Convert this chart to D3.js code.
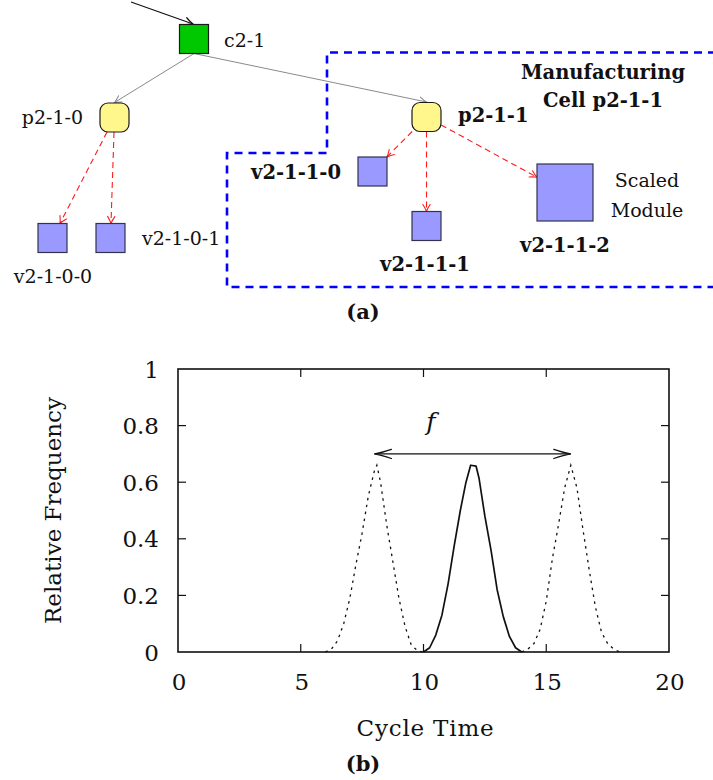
<!DOCTYPE html>
<html>
<head>
<meta charset="utf-8">
<script src="https://cdn.jsdelivr.net/npm/d3@7/dist/d3.min.js"></script>
<style>
  html, body { margin: 0; padding: 0; background: #fff; }
  svg { display: block; }
  text { font-family: "DejaVu Serif", "Liberation Serif", serif; fill: #111; }
</style>
</head>
<body>
<svg id="fig" width="713" height="780"></svg>
<script>
// ---------- (a) hierarchy: cell -> processes -> modules ----------
const nodeNames = ["c2-1", "p2-1-0", "p2-1-1", "v2-1-0-0", "v2-1-0-1", "v2-1-1-0", "v2-1-1-1", "v2-1-1-2"];
const nodeKinds = ["cell", "process", "process", "module", "module", "module", "module", "module"];
const treeLinks = [["c2-1", "p2-1-0"], ["c2-1", "p2-1-1"]];
const moduleLinks = [["p2-1-0", "v2-1-0-0"], ["p2-1-0", "v2-1-0-1"],
                     ["p2-1-1", "v2-1-1-0"], ["p2-1-1", "v2-1-1-1"], ["p2-1-1", "v2-1-1-2"]];
const highlightedNodes = ["p2-1-1", "v2-1-1-0", "v2-1-1-1", "v2-1-1-2"];
const cellCaption = ["Manufacturing", "Cell p2-1-1"];
const scaledCaption = ["Scaled", "Module"];

// ---------- (b) cycle-time distributions ----------
const xTicks = [0, 5, 10, 15, 20];
const yTicks = [0, 0.2, 0.4, 0.6, 0.8, 1];
const yTickLabels = ["0", "0.2", "0.4", "0.6", "0.8", "1"];
const xTitle = "Cycle Time";
const yTitle = "Relative Frequency";

// current cycle (solid)
const currentTime = [10, 10.25, 10.5, 10.75, 11, 11.25, 11.5, 11.72, 11.92, 12.14, 12.26, 12.5, 12.75, 13, 13.25, 13.5, 13.75, 14];
const currentFreq = [0, 0.015, 0.06, 0.13, 0.24, 0.375, 0.5, 0.596, 0.66, 0.657, 0.615, 0.48, 0.36, 0.22, 0.125, 0.055, 0.015, 0];
// previous cycle (dotted)
const previousTime = [6, 6.25, 6.5, 6.75, 7, 7.25, 7.5, 7.75, 8, 8.1, 8.25, 8.5, 8.75, 9, 9.25, 9.5, 9.75, 10];
const previousFreq = [0, 0.01, 0.04, 0.1, 0.19, 0.31, 0.42, 0.55, 0.64, 0.66, 0.6, 0.45, 0.32, 0.19, 0.09, 0.025, 0.005, 0];
// next cycle (dotted)
const nextTime = [14, 14.25, 14.5, 14.75, 15, 15.25, 15.5, 15.75, 16, 16.25, 16.5, 16.75, 17, 17.25, 17.5, 17.75, 18];
const nextFreq = [0, 0.01, 0.03, 0.08, 0.18, 0.33, 0.45, 0.58, 0.66, 0.58, 0.43, 0.29, 0.16, 0.07, 0.03, 0.01, 0];

// period marker between the two outer peaks
const periodStart = 8, periodEnd = 16, periodLevel = 0.7;
const periodLabel = "f";
const periodLabelAt = [10.3, 0.785];

const svg = d3.select("#fig");

// ---------- markers ----------
const defs = svg.append("defs");
function arrowMarker(id, color, len, half, width) {
  defs.append("marker")
    .attr("id", id)
    .attr("markerUnits", "userSpaceOnUse")
    .attr("viewBox", `${-len - 2} ${-half - 2} ${len + 4} ${2 * half + 4}`)
    .attr("refX", 0).attr("refY", 0)
    .attr("markerWidth", len + 4).attr("markerHeight", 2 * half + 4)
    .attr("orient", "auto-start-reverse")
    .append("path")
    .attr("d", `M${-len},${-half} Q${-len * 0.4},${-half * 0.25} 0,0 Q${-len * 0.4},${half * 0.25} ${-len},${half}`)
    .attr("fill", "none")
    .attr("stroke", color)
    .attr("stroke-width", width)
    .attr("stroke-dasharray", "none")
    .attr("stroke-linecap", "round");
}
arrowMarker("arrGray", "#8a8a8a", 7, 3.6, 1);
arrowMarker("arrRed", "#ff1a1a", 7, 3.6, 1.1);
arrowMarker("arrBlack", "#111", 8, 3.8, 1.2);
arrowMarker("arrPeriod", "#111", 17, 4.6, 1.3);

// ---------- (a) layout ----------
const box = {
  "c2-1":     { x: 179.5, y: 24.5,  w: 29, h: 29 },
  "p2-1-0":   { x: 100,   y: 103,   w: 29, h: 29 },
  "p2-1-1":   { x: 412,   y: 102.5, w: 29, h: 29 },
  "v2-1-0-0": { x: 38,    y: 223.5, w: 29, h: 29 },
  "v2-1-0-1": { x: 96,    y: 223.5, w: 29, h: 29 },
  "v2-1-1-0": { x: 358,   y: 157,   w: 29, h: 29 },
  "v2-1-1-1": { x: 412,   y: 211.5, w: 29, h: 29 },
  "v2-1-1-2": { x: 537,   y: 164,   w: 56, h: 57 }
};
const labelPos = {
  "c2-1":     { x: 224, y: 47,  anchor: "start" },
  "p2-1-0":   { x: 83,  y: 124, anchor: "end" },
  "p2-1-1":   { x: 458, y: 122, anchor: "start" },
  "v2-1-0-0": { x: 53,  y: 283, anchor: "middle" },
  "v2-1-0-1": { x: 142, y: 245, anchor: "start" },
  "v2-1-1-0": { x: 341, y: 179, anchor: "end" },
  "v2-1-1-1": { x: 425, y: 271, anchor: "middle" },
  "v2-1-1-2": { x: 565, y: 252, anchor: "middle" }
};
const centerOf = n => [box[n].x + box[n].w / 2, box[n].y + box[n].h / 2];

// cell boundary (dashed blue)
const cellOutline = [[716, 52.5], [327, 52.5], [327, 153], [227, 153], [227, 287], [716, 287]];
svg.append("path")
  .attr("d", d3.line()(cellOutline))
  .attr("fill", "none")
  .attr("stroke", "#0000ff")
  .attr("stroke-width", 2.6)
  .attr("stroke-dasharray", "8,6");

// entry arrow into the cell node
svg.append("line")
  .attr("x1", 131).attr("y1", 2)
  .attr("x2", centerOf("c2-1")[0] - 1).attr("y2", box["c2-1"].y - 0.5)
  .attr("stroke", "#111").attr("stroke-width", 1.2)
  .attr("marker-end", "url(#arrBlack)");

// cell -> process links (south anchor to north anchor)
treeLinks.forEach(([s, t]) => {
  const sb = box[s], tb = box[t];
  svg.append("line")
    .attr("x1", sb.x + sb.w / 2).attr("y1", sb.y + sb.h)
    .attr("x2", tb.x + tb.w / 2).attr("y2", tb.y - 0.5)
    .attr("stroke", "#8a8a8a").attr("stroke-width", 1)
    .attr("marker-end", "url(#arrGray)");
});

// clip a centre-to-centre segment to a rectangle border
function clipToBox(from, to, b) {
  const dx = to[0] - from[0], dy = to[1] - from[1];
  const tx = dx === 0 ? Infinity : (b.w / 2) / Math.abs(dx);
  const ty = dy === 0 ? Infinity : (b.h / 2) / Math.abs(dy);
  const t = Math.min(tx, ty);
  return [from[0] + dx * t, from[1] + dy * t];
}

// process -> module links (dashed red)
moduleLinks.forEach(([s, t]) => {
  const cs = centerOf(s), ct = centerOf(t);
  const p0 = clipToBox(cs, ct, box[s]);
  const p1 = clipToBox(ct, cs, box[t]);
  svg.append("line")
    .attr("x1", p0[0]).attr("y1", p0[1])
    .attr("x2", p1[0]).attr("y2", p1[1])
    .attr("stroke", "#ff1a1a").attr("stroke-width", 1.1)
    .attr("stroke-dasharray", "6,4")
    .attr("marker-end", "url(#arrRed)");
});

// nodes
const nodeStyle = {
  cell:    { fill: "#00c800", stroke: "#1a1a1a", rx: 0 },
  process: { fill: "#fff68c", stroke: "#1a1a1a", rx: 8 },
  module:  { fill: "#9999ff", stroke: "#33334d", rx: 0 }
};
nodeNames.forEach((n, i) => {
  const b = box[n], st = nodeStyle[nodeKinds[i]];
  svg.append("rect")
    .attr("x", b.x).attr("y", b.y).attr("width", b.w).attr("height", b.h)
    .attr("rx", st.rx).attr("ry", st.rx)
    .attr("fill", st.fill).attr("stroke", st.stroke).attr("stroke-width", 1.2);
});

// node labels
nodeNames.forEach(n => {
  const bold = highlightedNodes.includes(n);
  const lp = labelPos[n];
  svg.append("text")
    .attr("x", lp.x).attr("y", lp.y)
    .attr("text-anchor", lp.anchor)
    .attr("font-size", bold ? 19.5 : 19)
    .attr("font-weight", bold ? "bold" : "normal")
    .text(n);
});

// captions
cellCaption.forEach((line, i) => {
  svg.append("text")
    .attr("x", 603).attr("y", [79, 107][i])
    .attr("text-anchor", "middle")
    .attr("font-size", 19.5).attr("font-weight", "bold")
    .text(line);
});
scaledCaption.forEach((line, i) => {
  svg.append("text")
    .attr("x", 647).attr("y", [187, 217][i])
    .attr("text-anchor", "middle")
    .attr("font-size", 19)
    .text(line);
});
svg.append("text")
  .attr("x", 363).attr("y", 319)
  .attr("text-anchor", "middle")
  .attr("font-size", 21).attr("font-weight", "bold")
  .text("(a)");

// ---------- (b) chart ----------
const x = d3.scaleLinear().domain([0, 20]).range([178, 669]);
const y = d3.scaleLinear().domain([0, 1]).range([652, 369]);
const tickLen = 8;

const plot = svg.append("g");

// ticks on all four sides, pointing inward
xTicks.slice(1, -1).forEach(v => {
  plot.append("line").attr("x1", x(v)).attr("x2", x(v))
    .attr("y1", y(0)).attr("y2", y(0) - tickLen)
    .attr("stroke", "#111").attr("stroke-width", 1.2);
  plot.append("line").attr("x1", x(v)).attr("x2", x(v))
    .attr("y1", y(1)).attr("y2", y(1) + tickLen)
    .attr("stroke", "#111").attr("stroke-width", 1.2);
});
yTicks.slice(1, -1).forEach(v => {
  plot.append("line").attr("x1", x(0)).attr("x2", x(0) + tickLen)
    .attr("y1", y(v)).attr("y2", y(v))
    .attr("stroke", "#111").attr("stroke-width", 1.2);
  plot.append("line").attr("x1", x(20)).attr("x2", x(20) - tickLen)
    .attr("y1", y(v)).attr("y2", y(v))
    .attr("stroke", "#111").attr("stroke-width", 1.2);
});

// curves
const line = d3.line().x(d => x(d[0])).y(d => y(d[1]));
const zip = (a, b) => a.map((v, i) => [v, b[i]]);
[zip(previousTime, previousFreq), zip(nextTime, nextFreq)].forEach(pts => {
  plot.append("path")
    .attr("d", line(pts))
    .attr("fill", "none")
    .attr("stroke", "#111")
    .attr("stroke-width", 1.3)
    .attr("stroke-dasharray", "2.5,4.5");
});
plot.append("path")
  .attr("d", line(zip(currentTime, currentFreq)))
  .attr("fill", "none")
  .attr("stroke", "#111")
  .attr("stroke-width", 1.7)
  .attr("stroke-linejoin", "round");

// frame
plot.append("rect")
  .attr("x", x(0)).attr("y", y(1))
  .attr("width", x(20) - x(0)).attr("height", y(0) - y(1))
  .attr("fill", "none").attr("stroke", "#111").attr("stroke-width", 1.6);

// period arrow
plot.append("line")
  .attr("x1", x(periodStart)).attr("x2", x(periodEnd))
  .attr("y1", y(periodLevel)).attr("y2", y(periodLevel))
  .attr("stroke", "#111").attr("stroke-width", 1.4)
  .attr("marker-start", "url(#arrPeriod)")
  .attr("marker-end", "url(#arrPeriod)");
plot.append("text")
  .attr("x", x(periodLabelAt[0])).attr("y", y(periodLabelAt[1]))
  .attr("text-anchor", "middle")
  .attr("font-size", 25).attr("font-style", "italic")
  .text(periodLabel);

// tick labels
xTicks.forEach(v => {
  plot.append("text")
    .attr("x", x(v) + 1).attr("y", 690)
    .attr("text-anchor", "middle")
    .attr("font-size", 23)
    .text(v);
});
yTicks.forEach((v, i) => {
  plot.append("text")
    .attr("x", 159).attr("y", y(v) + 8.5)
    .attr("text-anchor", "end")
    .attr("font-size", 23)
    .text(yTickLabels[i]);
});

// axis titles
plot.append("text")
  .attr("x", (x(0) + x(20)) / 2 + 2).attr("y", 736)
  .attr("text-anchor", "middle")
  .attr("font-size", 23).attr("letter-spacing", 0.8)
  .text(xTitle);
plot.append("text")
  .attr("transform", `translate(61, ${(y(0) + y(1)) / 2}) rotate(-90)`)
  .attr("text-anchor", "middle")
  .attr("font-size", 23)
  .text(yTitle);

svg.append("text")
  .attr("x", 363).attr("y", 771)
  .attr("text-anchor", "middle")
  .attr("font-size", 21).attr("font-weight", "bold")
  .text("(b)");
</script>
</body>
</html>
